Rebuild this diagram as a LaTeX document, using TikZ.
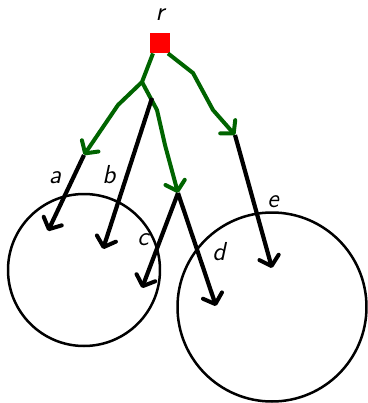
\documentclass[tikz,border=0pt]{standalone}
\usepackage{xcolor}
\usepackage{tikz}
\usetikzlibrary{arrows.meta}

\definecolor{pathgreen}{RGB}{0,100,0}

\begin{document}
\begin{tikzpicture}[x=0.5pt,y=-0.5pt,line join=round,
       >={Straight Barb[length=4.5pt,width=10pt,line width=2pt,round]},
       lbl/.style={font=\sffamily\itshape\fontsize{13}{15}\selectfont},
       ray/.style={->,line width=2.1pt},
       hop/.style={->,line width=2pt,draw=pathgreen},
       ball/.style={draw,circle,line width=1.25pt,inner sep=0pt}]
       \useasboundingbox (0,0) rectangle (368,403);

       \node[ball,minimum size=76pt] (left) at (84,270) {};
       \node[ball,minimum size=94.5pt] (right) at (272,307) {};

       \node[fill=red,inner sep=0pt,minimum size=10pt] (root) at (160,43) {};
       \node[lbl] (r) at (160,15) {r};

       \coordinate (j) at (142,82);
       \coordinate (j1) at (118,105);
       \coordinate (j2) at (157,110);
       \coordinate (j3) at (165,145);
       \coordinate (k1) at (193,73);
       \coordinate (k2) at (213,110);
       \coordinate (a0) at (84,155);
       \coordinate (b0) at (152,98);
       \coordinate (c0) at (178,193);
       \coordinate (e0) at (235,135);
       \coordinate (a1) at (48,231);
       \coordinate (b1) at (103,249);
       \coordinate (c1) at (142,288);
       \coordinate (d1) at (216,306);
       \coordinate (e1) at (272,268);

       \draw[hop] ([xshift=-3.5pt]root.south) -- (j) -- (j1) -- (a0);
       \draw[hop] (j) -- (j2) -- (j3) -- (c0);
       \draw[hop] ([xshift=4pt]root.south) -- (k1) -- (k2) -- (e0);

       \path[ray]
       (a0) edge (a1)
       (b0) edge (b1)
       (c0) edge (c1)
            edge (d1)
       (e0) edge (e1);

       \node[lbl] (a) at (55,178) {a};
       \node[lbl] (b) at (109,175) {b};
       \node[lbl] (c) at (143,240) {c};
       \node[lbl] (d) at (219,252) {d};
       \node[lbl] (e) at (273,202) {e};
    \end{tikzpicture}
\end{document}
